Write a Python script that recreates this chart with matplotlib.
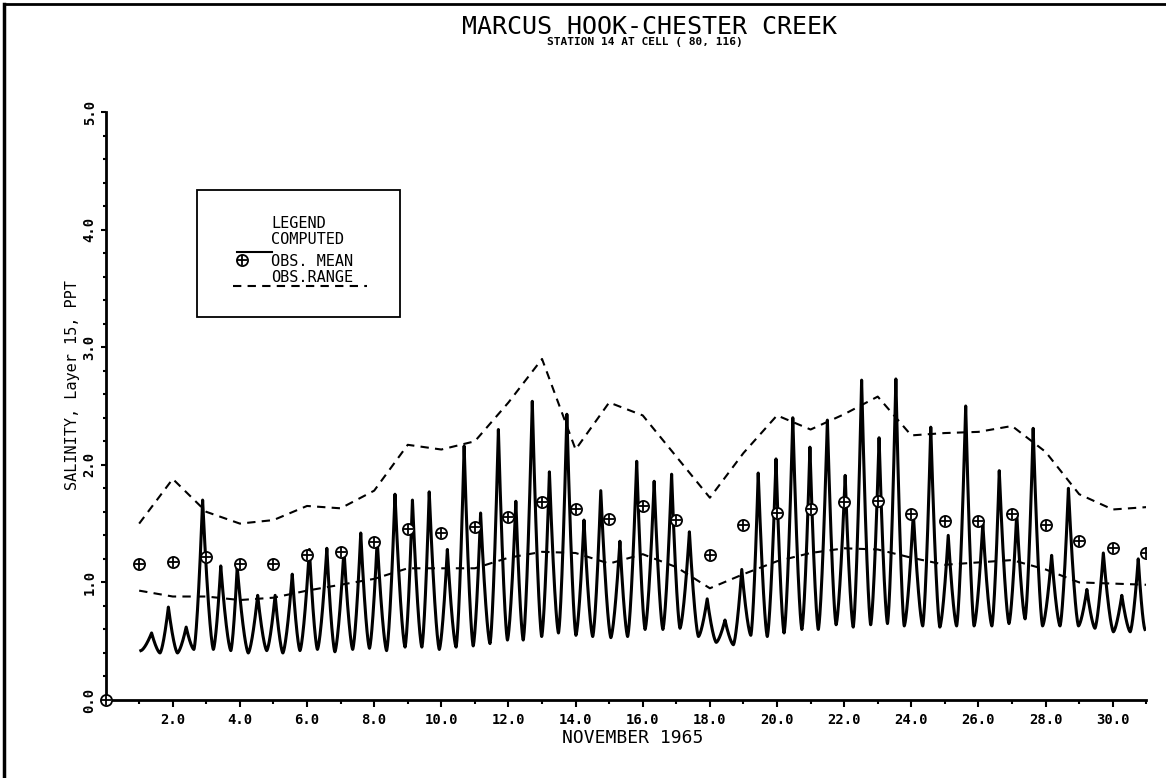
import numpy as np
import matplotlib.pyplot as plt
from matplotlib.lines import Line2D
from matplotlib.patches import Rectangle
from matplotlib.ticker import FixedLocator, MultipleLocator, FormatStrFormatter

plt.rcParams['font.family'] = ['DejaVu Sans Mono']

peak_day = [1.37, 1.87, 2.40, 2.89, 3.43, 3.92, 4.53, 5.05, 5.56, 6.07,
            6.59, 7.10, 7.60, 8.09, 8.62, 9.14, 9.64, 10.18, 10.68, 11.17,
            11.70, 12.22, 12.71, 13.22, 13.74, 14.25, 14.75, 15.32, 15.82, 16.34,
            16.86, 17.39, 17.92, 18.45, 18.95, 19.44, 19.97, 20.47, 20.98, 21.50,
            22.03, 22.52, 23.04, 23.54, 24.06, 24.58, 25.10, 25.62, 26.13, 26.62,
            27.14, 27.63, 28.18, 28.68, 29.23, 29.72, 30.27, 30.76]
peak_val = [0.57, 0.79, 0.62, 1.70, 1.14, 1.13, 0.89, 0.89, 1.07, 1.28,
            1.29, 1.28, 1.42, 1.36, 1.75, 1.70, 1.77, 1.28, 2.16, 1.59,
            2.30, 1.69, 2.54, 1.94, 2.43, 1.53, 1.78, 1.35, 2.03, 1.86,
            1.92, 1.43, 0.86, 0.68, 1.11, 1.93, 2.05, 2.40, 2.15, 2.38,
            1.91, 2.72, 2.23, 2.73, 1.59, 2.32, 1.40, 2.50, 1.50, 1.95,
            1.59, 2.31, 1.23, 1.80, 0.94, 1.25, 0.89, 1.20]
trough_day = [1.62, 2.14, 2.63, 3.21, 3.73, 4.25, 4.80, 5.28, 5.79, 6.31,
              6.83, 7.36, 7.86, 8.37, 8.92, 9.42, 9.94, 10.44, 10.95, 11.45,
              11.97, 12.44, 12.99, 13.49, 14.01, 14.51, 15.05, 15.55, 16.07, 16.60,
              17.11, 17.66, 18.19, 18.70, 19.22, 19.71, 20.21, 20.74, 21.23, 21.76,
              22.27, 22.79, 23.29, 23.79, 24.34, 24.85, 25.35, 25.87, 26.40, 26.91,
              27.39, 27.91, 28.43, 28.98, 29.47, 30.02, 30.52]
trough_val = [0.40, 0.40, 0.43, 0.43, 0.42, 0.40, 0.42, 0.40, 0.42, 0.43,
              0.41, 0.43, 0.44, 0.42, 0.45, 0.45, 0.43, 0.45, 0.46, 0.48,
              0.51, 0.51, 0.54, 0.57, 0.55, 0.54, 0.53, 0.54, 0.60, 0.60,
              0.61, 0.54, 0.49, 0.47, 0.55, 0.54, 0.57, 0.60, 0.60, 0.64,
              0.62, 0.64, 0.65, 0.63, 0.63, 0.62, 0.63, 0.63, 0.63, 0.65,
              0.69, 0.63, 0.63, 0.63, 0.61, 0.58, 0.58]
start_day, start_val = 1.05, 0.42
end_day, end_val = 30.96, 0.60

# observations, one per day
obs_day = list(range(1, 32))
obs_mean = [1.16, 1.17, 1.22, 1.16, 1.16, 1.23, 1.26, 1.34, 1.45, 1.42,
            1.47, 1.56, 1.68, 1.62, 1.54, 1.65, 1.53, 1.23, 1.49, 1.59,
            1.62, 1.68, 1.69, 1.58, 1.52, 1.52, 1.58, 1.49, 1.35, 1.29, 1.25]
range_hi = [1.50, 1.88, 1.60, 1.50, 1.53, 1.65, 1.63, 1.78, 2.17, 2.13,
            2.20, 2.53, 2.90, 2.13, 2.53, 2.42, 2.07, 1.72, 2.10, 2.42,
            2.30, 2.43, 2.58, 2.25, 2.27, 2.28, 2.33, 2.11, 1.75, 1.62, 1.64]
range_lo = [0.93, 0.88, 0.88, 0.85, 0.87, 0.93, 0.98, 1.03, 1.12, 1.12,
            1.12, 1.21, 1.26, 1.25, 1.16, 1.24, 1.13, 0.95, 1.07, 1.18,
            1.25, 1.29, 1.28, 1.21, 1.15, 1.17, 1.19, 1.11, 1.00, 0.99, 0.98]
# stray plotter symbol at the origin
origin_day, origin_val = [0.0], [0.0]

W, H = 1166, 778


def fx(px):
    return px / W


def fy(py):
    return 1 - py / H


# join crests and troughs: pointed crest, rounded trough
ext_day = [start_day]
ext_val = [start_val]
for i in range(len(peak_day)):
    ext_day.append(peak_day[i])
    ext_val.append(peak_val[i])
    if i < len(trough_day):
        ext_day.append(trough_day[i])
        ext_val.append(trough_val[i])
ext_day.append(end_day)
ext_val.append(end_val)

s = np.linspace(0, 1, 30)
cx, cy = [], []
for i in range(len(ext_day) - 1):
    d0, d1 = ext_day[i], ext_day[i + 1]
    v0, v1 = ext_val[i], ext_val[i + 1]
    g = s ** 1.5 if v1 > v0 else 1 - (1 - s) ** 1.5
    cx.extend(d0 + (d1 - d0) * s)
    cy.extend(v0 + (v1 - v0) * g)

fig = plt.figure(figsize=(W / 100, H / 100), dpi=100)
ax_left, ax_right, ax_bot, ax_top = 105.6, 1146.3, 700, 112
ax = fig.add_axes([fx(ax_left), fy(ax_bot), (ax_right - ax_left) / W, (ax_bot - ax_top) / H])

ax.plot(cx, cy, color='black', lw=2.2)
ax.plot(obs_day, range_hi, color='black', lw=1.5, dashes=[4, 3])
ax.plot(obs_day, range_lo, color='black', lw=1.5, dashes=[4, 3])
for d, v, clip in [(obs_day, obs_mean, True), (origin_day, origin_val, False)]:
    ax.plot(d, v, ls='none', marker='o', ms=8, mfc='white', mec='black', mew=1.3, clip_on=clip, zorder=5)
    ax.plot(d, v, ls='none', marker='+', ms=7.5, mec='black', mew=1.3, clip_on=clip, zorder=6)

ax.set_xlim(0, 31)
ax.set_ylim(0, 5)
ax.xaxis.set_major_locator(FixedLocator(list(range(2, 31, 2))))
ax.xaxis.set_minor_locator(FixedLocator(list(range(1, 32, 2))))
ax.yaxis.set_major_locator(MultipleLocator(1.0))
ax.yaxis.set_minor_locator(MultipleLocator(0.2))
ax.xaxis.set_major_formatter(FormatStrFormatter('%.1f'))
ax.yaxis.set_major_formatter(FormatStrFormatter('%.1f'))
ax.tick_params(axis='x', which='major', length=5, width=1.5, pad=4, labelsize=10)
ax.tick_params(axis='x', which='minor', length=3, width=1.5)
ax.tick_params(axis='y', which='major', length=3.5, width=1.5, pad=3, labelsize=10, labelrotation=90)
ax.tick_params(axis='y', which='minor', length=2.5, width=1.5)
for lab in ax.get_xticklabels() + ax.get_yticklabels():
    lab.set_fontweight('bold')
for lab in ax.get_yticklabels():
    lab.set_va('center')
for side in ['top', 'right']:
    ax.spines[side].set_visible(False)
for side in ['left', 'bottom']:
    ax.spines[side].set_linewidth(2)

# titles and axis labels
fig.text(fx(650), fy(27), 'MARCUS HOOK-CHESTER CREEK', ha='center', va='center', fontsize=18)
fig.text(fx(645), fy(42), 'STATION 14 AT CELL ( 80, 116)', ha='center', va='center',
         fontsize=8, fontweight='bold')
fig.text(fx(633), fy(738), 'NOVEMBER 1965', ha='center', va='center', fontsize=13)
fig.text(fx(72), fy(385), 'SALINITY, Layer 15, PPT', ha='center', va='center',
         rotation=90, fontsize=11)

# hand drawn legend box
fig.patches.append(Rectangle((fx(197), fy(317)), (400 - 197) / W, (317 - 190) / H,
                             transform=fig.transFigure, fill=False, ec='black', lw=1.3))
legend_font = 11
fig.text(fx(271), fy(223), 'LEGEND', ha='left', va='center', fontsize=legend_font)
fig.text(fx(271), fy(240), 'COMPUTED', ha='left', va='center', fontsize=legend_font)
fig.text(fx(271), fy(261), 'OBS. MEAN', ha='left', va='center', fontsize=legend_font)
fig.text(fx(271), fy(278), 'OBS.RANGE', ha='left', va='center', fontsize=legend_font)
fig.lines.append(Line2D([fx(237), fx(272)], [fy(252), fy(252)], transform=fig.transFigure,
                        color='black', lw=1.5))
fig.lines.append(Line2D([fx(242)], [fy(260)], transform=fig.transFigure, ls='none',
                        marker='o', ms=8, mfc='white', mec='black', mew=1.3))
fig.lines.append(Line2D([fx(242)], [fy(260)], transform=fig.transFigure, ls='none',
                        marker='+', ms=7.5, mec='black', mew=1.3))
fig.lines.append(Line2D([fx(233), fx(367)], [fy(286), fy(286)], transform=fig.transFigure,
                        color='black', lw=1.5, dashes=[4, 3]))

# page frame
fig.lines.append(Line2D([fx(4), fx(4)], [fy(4), fy(778)], transform=fig.transFigure,
                        color='black', lw=2.5))
fig.lines.append(Line2D([fx(4), fx(1166)], [fy(4), fy(4)], transform=fig.transFigure,
                        color='black', lw=2))

fig.savefig('out.png', dpi=100)
